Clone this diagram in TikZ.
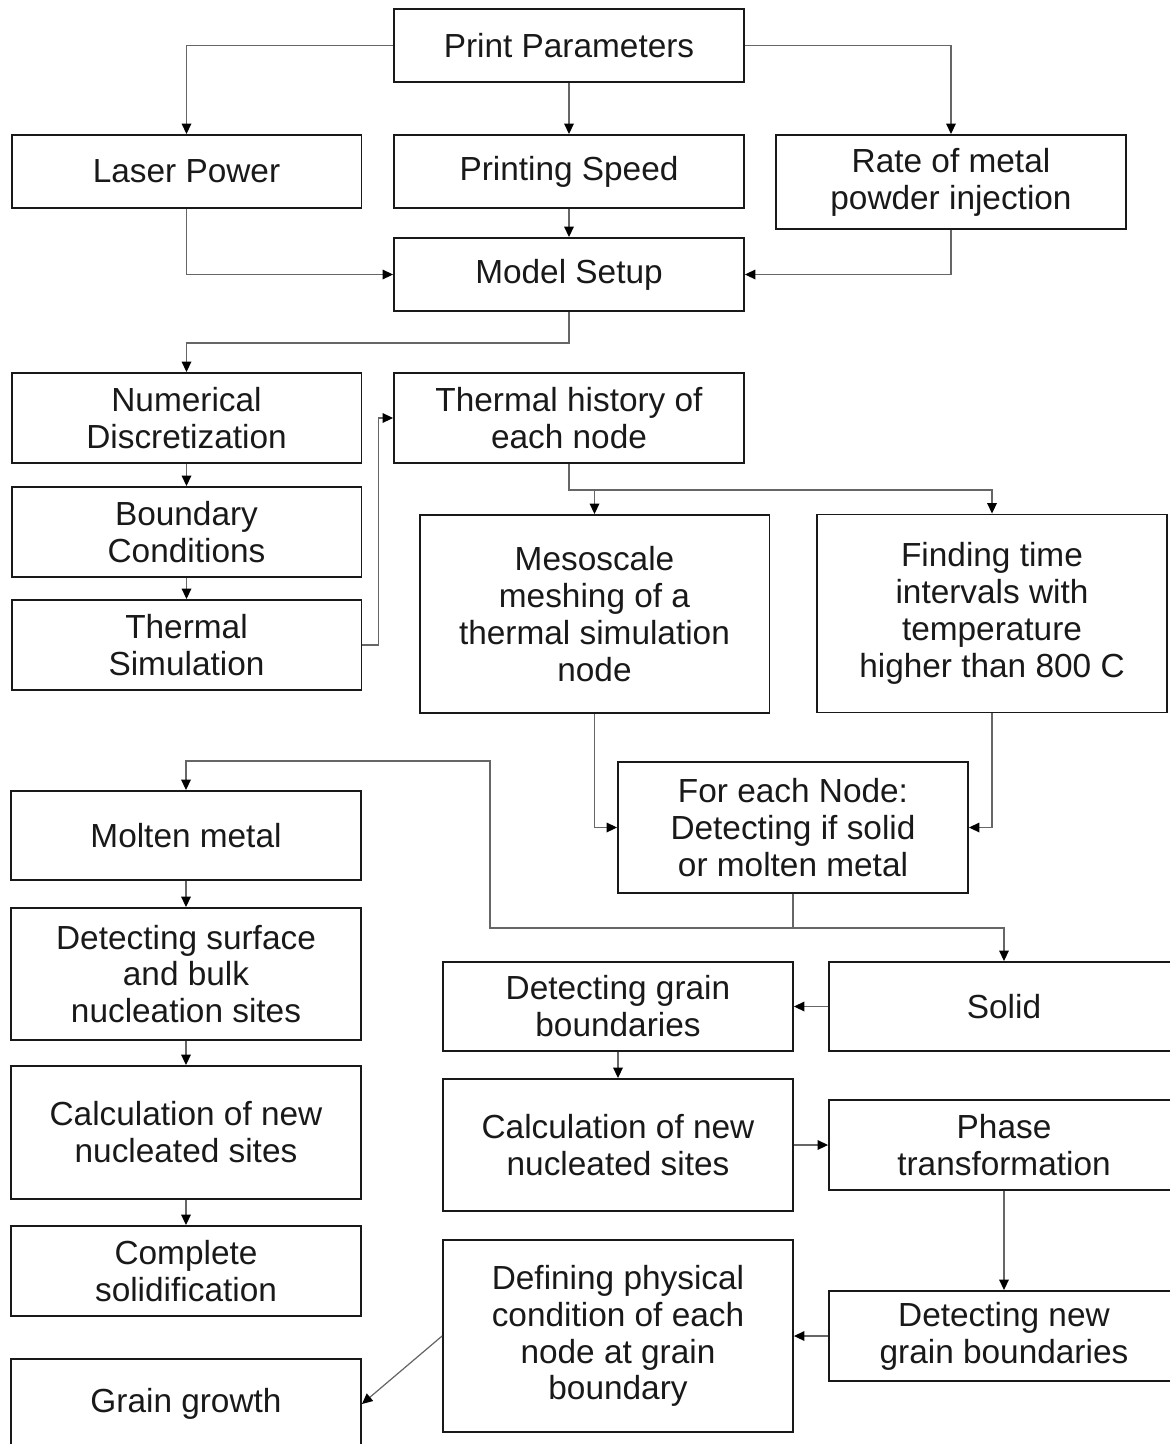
\documentclass[tikz,border=0pt]{standalone}
\usepackage{fontspec}
\setmainfont{Liberation Sans}
\usetikzlibrary{arrows.meta}
\tikzset{
  block/.style={draw=black!90, line width=1.1pt, align=center, text=black!90,
    font=\fontsize{19}{21}\selectfont, minimum width=7cm, inner sep=2pt},
  conn/.style={draw=black!60, line width=0.7pt, -{Triangle[length=6pt,width=5.5pt,color=black]}},
}
\begin{document}
\begin{tikzpicture}[x=0.02cm, y=-0.02cm]
  \useasboundingbox (0,0) rectangle (1170,1444);
  \clip (0,0) rectangle (1170,1444);
    \node[block, minimum height=1.46cm] (print) at (569,45.5) {Print Parameters};
    \node[block, minimum height=1.46cm] (laser) at (186.5,171.5) {Laser Power};
    \node[block, minimum height=1.46cm] (speed) at (569,171.5) {Printing Speed};
    \node[block, minimum height=1.88cm] (rate) at (951,182) {Rate of metal\\powder injection};
    \node[block, minimum height=1.46cm] (setup) at (569,274.5) {Model Setup};
    \node[block, minimum height=1.8cm] (numer) at (186.5,418) {Numerical\\Discretization};
    \node[block, minimum height=1.8cm] (history) at (569,418) {Thermal history of\\each node};
    \node[block, minimum height=1.8cm] (bound) at (186.5,532) {Boundary\\Conditions};
    \node[block, minimum height=1.8cm] (thsim) at (186.5,645) {Thermal\\Simulation};
    \node[block, minimum height=3.96cm] (meso) at (594.5,614) {Mesoscale\\meshing of a\\thermal simulation\\node};
    \node[block, minimum height=3.96cm] (finding) at (992,613.5) {Finding time\\intervals with\\temperature\\higher than 800 C};
    \node[block, minimum height=2.62cm] (foreach) at (793,827.5) {For each Node:\\Detecting if solid\\or molten metal};
    % molten branch
    \node[block, minimum height=1.78cm] (molten) at (186,835.5) {Molten metal};
    \node[block, minimum height=2.64cm] (surface) at (186,974) {Detecting surface\\and bulk\\nucleation sites};
    \node[block, minimum height=2.66cm] (calcL) at (186,1132.5) {Calculation of new\\nucleated sites};
    \node[block, minimum height=1.8cm] (complete) at (186,1271) {Complete\\solidification};
    \node[block, minimum height=1.8cm] (growth) at (186,1404) {Grain growth};
    % solid branch
    \node[block, minimum height=1.78cm] (solid) at (1004,1006.5) {Solid};
    \node[block, minimum height=1.78cm] (grainb) at (618,1006.5) {Detecting grain\\boundaries};
    \node[block, minimum height=2.64cm] (calcM) at (618,1145) {Calculation of new\\nucleated sites};
    \node[block, minimum height=1.8cm] (phase) at (1004,1145) {Phase\\transformation};
    \node[block, minimum height=3.84cm] (defin) at (618,1336) {Defining physical\\condition of each\\node at grain\\boundary};
    \node[block, minimum height=1.8cm] (newgb) at (1004,1336) {Detecting new\\grain boundaries};

    \draw[conn] (print.west) -| (laser.north);
    \draw[conn] (print.south) -- (speed.north);
    \draw[conn] (print.east) -| (rate.north);
    \draw[conn] (speed.south) -- (setup.north);
    \draw[conn] (laser.south) |- (setup.west);
    \draw[conn] (rate.south) |- (setup.east);
    \draw[conn] (setup.south) -- ++(0,31) -| (numer.north);
    \draw[conn] (numer.south) -- (bound.north);
    \draw[conn] (bound.south) -- (thsim.north);
    \draw[conn] (thsim.east) -- ++(16,0) |- (history.west);
    \draw[conn] (history.south) -- ++(0,26) coordinate (hb) -| (meso.north);
    \draw[conn] (hb) -| (finding.north);
    \draw[conn] (meso.south) |- (foreach.west);
    \draw[conn] (finding.south) |- (foreach.east);
    \coordinate (loop) at (490,761);
    \draw[conn] (foreach.south) -- ++(0,34) coordinate (fb) -| (solid.north);
    \draw[conn] (fb) -| (loop) -| (molten.north);
    \draw[conn] (molten.south) -- (surface.north);
    \draw[conn] (surface.south) -- (calcL.north);
    \draw[conn] (calcL.south) -- (complete.north);
    \draw[conn] (solid.west) -- (grainb.east);
    \draw[conn] (grainb.south) -- (calcM.north);
    \draw[conn] (calcM.east) -- (phase.west);
    \draw[conn] (phase.south) -- (newgb.north);
    \draw[conn] (newgb.west) -- (defin.east);
    \draw[conn] (defin.west) -- (growth.east);
\end{tikzpicture}
\end{document}
